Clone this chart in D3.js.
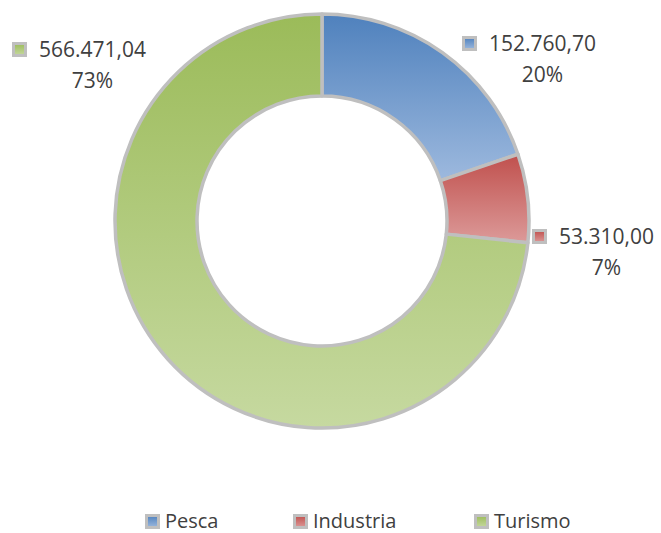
<!DOCTYPE html>
<html>
<head>
<meta charset="utf-8">
<style>
body { margin: 0; background: #fff; overflow: hidden; }
svg { display: block; }
svg text { font-family: "Open Sans", sans-serif; fill: #404040; }
</style>
</head>
<body>
<svg width="661" height="533"></svg>
<script src="https://d3js.org/d3.v7.min.js"></script>
<script>

// data
var categories = ["Pesca", "Industria", "Turismo"];
var values = [152760.70, 53310.00, 566471.04];
var valueLabels = ["152.760,70", "53.310,00", "566.471,04"];
var percentLabels = ["20%", "7%", "73%"];

var colorsTop = ["#4f81bd", "#c0504d", "#9bbb59"],
    colorsBottom = ["#9db9de", "#dc9a99", "#c6d9a0"];

var svg = d3.select("svg"),
    cx = 322, cy = 221,
    outerR = 207, innerR = 125;

var defs = svg.append("defs");
categories.forEach(function(c, i) {
  var g = defs.append("linearGradient")
      .attr("id", "grad" + i)
      .attr("x1", 0).attr("y1", 0).attr("x2", 0).attr("y2", 1);
  g.append("stop").attr("offset", "0%").attr("stop-color", colorsTop[i]);
  g.append("stop").attr("offset", "100%").attr("stop-color", colorsBottom[i]);
});

var pie = d3.pie().sort(null).value(function(d) { return d; });
var arc = d3.arc().innerRadius(innerR).outerRadius(outerR);

var chart = svg.append("g")
    .attr("transform", "translate(" + cx + "," + cy + ")");

chart.selectAll("path.slice")
    .data(pie(values))
  .enter().append("path")
    .attr("class", "slice")
    .attr("d", arc)
    .attr("fill", function(d, i) { return "url(#grad" + i + ")"; })
    .attr("stroke", "#bfbfbf")
    .attr("stroke-width", 3.5)
    .attr("stroke-linejoin", "round");

// data labels (positions where the original placed them)
var labelPos = [[462, 36], [532, 229], [12, 42]];

var labels = svg.selectAll("g.label")
    .data(categories)
  .enter().append("g")
    .attr("class", "label")
    .attr("transform", function(d, i) { return "translate(" + labelPos[i][0] + "," + labelPos[i][1] + ")"; });

labels.append("rect")
    .attr("x", 1.5).attr("y", 1.5)
    .attr("width", 12).attr("height", 12)
    .attr("fill", function(d, i) { return "url(#grad" + i + ")"; })
    .attr("stroke", "#bfbfbf")
    .attr("stroke-width", 3);

labels.append("text")
    .attr("x", 27).attr("y", 15)
    .style("font-size", "21px")
    .text(function(d, i) { return valueLabels[i]; });

labels.append("text")
    .attr("x", function(d, i) { return 27 + this.previousSibling.getComputedTextLength() / 2; })
    .attr("y", 46)
    .attr("text-anchor", "middle")
    .style("font-size", "21px")
    .text(function(d, i) { return percentLabels[i]; });

// legend
var legendX = [145, 293, 474];
var legend = svg.selectAll("g.legend")
    .data(categories)
  .enter().append("g")
    .attr("class", "legend")
    .attr("transform", function(d, i) { return "translate(" + legendX[i] + ",514)"; });

legend.append("rect")
    .attr("x", 1.5).attr("y", 1.5)
    .attr("width", 12).attr("height", 12)
    .attr("fill", function(d, i) { return "url(#grad" + i + ")"; })
    .attr("stroke", "#bfbfbf")
    .attr("stroke-width", 3);

legend.append("text")
    .attr("x", 20).attr("y", 14)
    .style("font-size", "20px")
    .text(function(d) { return d; });

</script>
</body>
</html>
